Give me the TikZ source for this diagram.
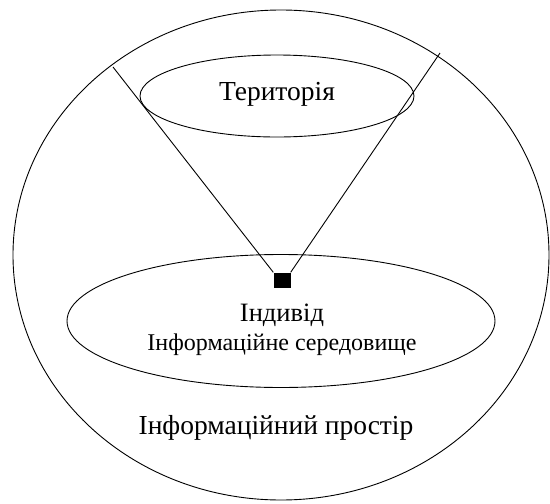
\documentclass[tikz,border=0pt]{standalone}
\usepackage{fontspec}
\setmainfont{Liberation Serif}
\usetikzlibrary{shapes.geometric}
\begin{document}
\begin{tikzpicture}[x=1pt,y=-1pt,
  outline/.style={draw, line width=0.9pt, ellipse, inner sep=0pt},
  cone/.style={draw, line width=0.9pt},
  bigtext/.style={font=\fontsize{27.5}{30}\selectfont, inner sep=0pt},
  midtext/.style={font=\fontsize{26.5}{30}\selectfont, inner sep=0pt},
  smalltext/.style={font=\fontsize{24}{28}\selectfont, inner sep=0pt}]
\useasboundingbox (0,0) rectangle (550,504);
\node[outline, minimum width=536pt, minimum height=490pt] (space) at (281,255) {};
\node[outline, minimum width=274pt, minimum height=82pt] (terr) at (277,96) {};
\node[outline, minimum width=428pt, minimum height=133pt] (env) at (281,321) {};
\node[fill=black, minimum width=17pt, minimum height=15pt, inner sep=0pt] (ind) at (282,280) {};
\coordinate (lt) at (113,67);
\coordinate (rt) at (440,53);
\draw[cone] (lt) -- (ind.north west);
\draw[cone] (rt) -- (ind.north east);
\node[bigtext] (tname) at (277,94) {Територія};
\node[midtext] (iname) at (282,315) {Індивід};
\node[smalltext] (ename) at (282,345) {Інформаційне середовище};
\node[bigtext] (sname) at (276,428) {Інформаційний простір};
\end{tikzpicture}
\end{document}
